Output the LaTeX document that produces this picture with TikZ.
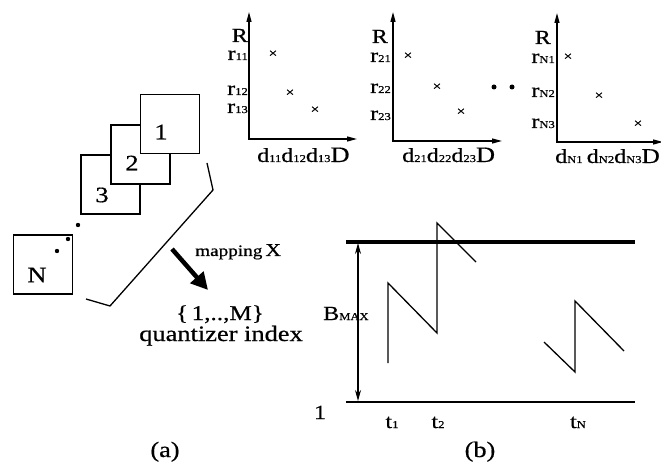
\documentclass[tikz,border=0pt]{standalone}
\usepackage{fontspec}
\setmainfont{Liberation Serif}[FakeStretch=1.2,FakeBold=0.6]
\usetikzlibrary{arrows.meta}
\newcommand{\sbs}[1]{{\fontsize{10.5}{10.5}\selectfont #1}}
\tikzset{
  lbl/.style={inner sep=0pt, font=\fontsize{20}{20}\selectfont},
  big/.style={inner sep=0pt, font=\fontsize{22}{22}\selectfont},
  sq/.style={draw, fill=white, minimum size=59pt, inner sep=0pt, line width=1.3pt},
  axes/.style={line width=1.3pt, {Triangle[length=10pt,width=5pt]}-{Triangle[length=10pt,width=5pt]}},
  cross/.style={inner sep=0pt, font=\fontsize{13}{13}\selectfont},
  dotm/.style={fill=black},
  thinl/.style={line width=1.3pt},
}
\begin{document}
\begin{tikzpicture}[x=1pt,y=-1pt]
\useasboundingbox (0,0) rectangle (661,462);
% ---------- stacked blocks (a)
\node[sq] (s3) at (110.5,184.5) {};
\node[sq] (s2) at (140.5,154.5) {};
\node[sq] (s1) at (170,124) {};
\node[sq] (sN) at (43,264.5) {};
\node[big] (l1) at (161,132) {1};
\node[big] (l2) at (132,163) {2};
\node[big] (l3) at (102,195) {3};
\node[big] (lN) at (37,275) {N};
\fill[dotm] (78,225) circle (2.2pt);
\fill[dotm] (68,239) circle (2.2pt);
\fill[dotm] (57,251) circle (2.2pt);
% bracket
\coordinate (b1) at (207,163);
\coordinate (b2) at (213,190);
\coordinate (b3) at (110,306);
\coordinate (b4) at (86,299);
\draw[thinl] (b1) -- (b2) -- (b3) -- (b4);
% mapping arrow
\coordinate (m1) at (172,249);
\coordinate (m2) at (208,290);
\draw[line width=4.5pt, -{Triangle[length=17pt,width=17pt]}] (m1) -- (m2);
\node[inner sep=0pt, anchor=base west] (map) at (195,256)
  {{\fontsize{16}{16}\selectfont mapping} {\fontsize{18}{18}\selectfont X}};
\node[inner sep=0pt, anchor=base, font=\fontsize{21}{21}\selectfont] (set) at (220,320) {\{\,1,..,M\}};
\node[inner sep=0pt, anchor=base, font=\fontsize{22}{22}\selectfont] (qi) at (221,341) {quantizer index};
\node[inner sep=0pt, anchor=base, font=\fontsize{22}{22}\selectfont] (ca) at (165,457) {(a)};
% ---------- graph 1
\coordinate (g1y) at (249,12);
\coordinate (g1x) at (357,139);
\draw[axes] (g1y) |- (g1x);
\node[lbl, anchor=base east] (R1) at (248,42) {R};
\node[lbl, anchor=base east] (r11) at (248,60) {r\sbs{11}};
\node[lbl, anchor=base east] (r12) at (248,95) {r\sbs{12}};
\node[lbl, anchor=base east] (r13) at (248,113) {r\sbs{13}};
\node[cross] (c11) at (273,54) {×};
\node[cross] (c12) at (290,93) {×};
\node[cross] (c13) at (315,110) {×};
\node[lbl, anchor=base west] (d1) at (257,162) {d\sbs{11}d\sbs{12}d\sbs{13}{\fontsize{22}{22}\selectfont D}};
% ---------- graph 2
\coordinate (g2y) at (393,12);
\coordinate (g2x) at (502,141);
\draw[axes] (g2y) |- (g2x);
\node[lbl, anchor=base east] (R2) at (388,43) {R};
\node[lbl, anchor=base east] (r21) at (391,62) {r\sbs{21}};
\node[lbl, anchor=base east] (r22) at (391,93) {r\sbs{22}};
\node[lbl, anchor=base east] (r23) at (391,120) {r\sbs{23}};
\node[cross] (c21) at (408,56) {×};
\node[cross] (c22) at (437,87) {×};
\node[cross] (c23) at (461,112) {×};
\node[lbl, anchor=base west] (d2) at (402,162) {d\sbs{21}d\sbs{22}d\sbs{23}{\fontsize{22}{22}\selectfont D}};
\fill[dotm] (494,87) circle (2.5pt);
\fill[dotm] (512,87) circle (2.5pt);
% ---------- graph 3
\coordinate (g3y) at (557,13);
\coordinate (g3x) at (663,142);
\draw[axes] (g3y) |- (g3x);
\node[lbl, anchor=base east] (R3) at (551,44) {R};
\node[lbl, anchor=base east] (rN1) at (555,63) {r\sbs{N1}};
\node[lbl, anchor=base east] (rN2) at (555,97) {r\sbs{N2}};
\node[lbl, anchor=base east] (rN3) at (555,128) {r\sbs{N3}};
\node[cross] (c31) at (568,57) {×};
\node[cross] (c32) at (599,96) {×};
\node[cross] (c33) at (638,124) {×};
\node[lbl, anchor=base west] (dN1) at (555,163) {d\sbs{N1}};
\node[lbl, anchor=base east] (dN2) at (660,163) {d\sbs{N2}d\sbs{N3}{\fontsize{21}{21}\selectfont D}};
% ---------- buffer graph (b)
\coordinate (tl) at (346,242);
\coordinate (tr) at (635,242);
\coordinate (bl) at (346,402);
\coordinate (br) at (635,402);
\draw[line width=4pt] (tl) -- (tr);
\draw[thinl] (bl) -- (br);
\coordinate (va) at (358,243);
\coordinate (vb) at (358,401);
\draw[line width=1.2pt, {Stealth[length=11pt,width=6pt]}-{Stealth[length=11pt,width=6pt]}] (va) -- (vb);
\node[lbl, anchor=base west] (bmax) at (323,320) {B\sbs{MAX}};
\node[lbl, anchor=base] (one) at (320,419) {1};
\draw[thinl] (388,363) -- (388,283) -- (437,333) -- (437,223) -- (476,262);
\draw[thinl] (544,342) -- (575,372) -- (575,301) -- (624,351);
\node[lbl, anchor=base] (t1) at (392,428) {t\sbs{1}};
\node[lbl, anchor=base] (t2) at (438,428) {t\sbs{2}};
\node[lbl, anchor=base] (tN) at (578,428) {t\sbs{N}};
\node[inner sep=0pt, anchor=base, font=\fontsize{22}{22}\selectfont] (cb) at (480,457) {(b)};
\end{tikzpicture}
\end{document}
